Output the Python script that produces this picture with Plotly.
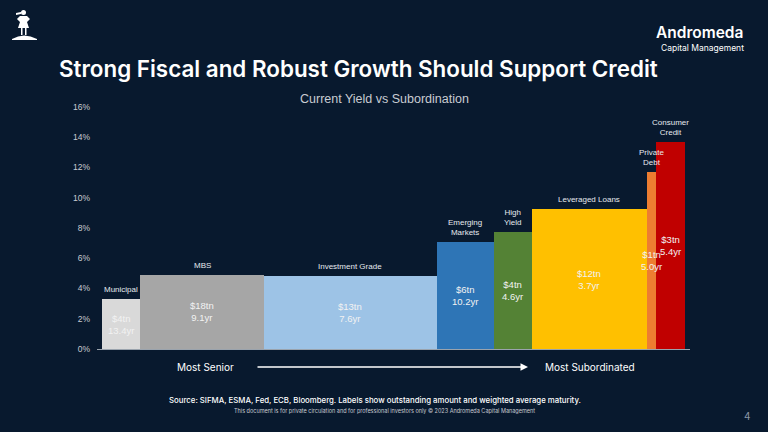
import plotly.graph_objects as go

# ---- data ----
categories = ["Municipal", "MBS", "Investment Grade", "Emerging Markets", "High Yield",
              "Leveraged Loans", "Private Debt", "Consumer Credit"]
cat_labels = ["Municipal", "MBS", "Investment Grade", "Emerging<br>Markets", "High<br>Yield",
              "Leveraged Loans", "Private<br>Debt", "Consumer<br>Credit"]
widths = [4, 13, 18, 6, 4, 12, 1, 3]           # bar widths (outstanding, tn)
yields = [3.3, 4.9, 4.8, 7.05, 7.75, 9.25, 11.7, 13.7]  # current yield, %
amounts = ["$4tn", "$18tn", "$13tn", "$6tn", "$4tn", "$12tn", "$1tn", "$3tn"]
maturity = ["13.4yr", "9.1yr", "7.6yr", "10.2yr", "4.6yr", "3.7yr", "5.0yr", "5.4yr"]
colors = ["#d9d9d9", "#a6a6a6", "#9dc3e6", "#2e75b6", "#548235", "#ffc000", "#ed7d31", "#c00000"]
y_ticks = [0, 2, 4, 6, 8, 10, 12, 14, 16]
y_tick_labels = [f"{t}%" for t in y_ticks]

BG = "#08192e"
W, H = 768, 432
L, R, T, B = 97, 690, 107, 349

def px(x):
    return (x - L) / (R - L)

def py(y):
    return (B - y) / (B - T)

centers = []
acc = 0
for w in widths:
    centers.append(acc + w / 2)
    acc += w
total = acc

fig = go.Figure()
fig.add_trace(go.Bar(
    x=centers, y=yields, width=widths,
    marker=dict(color=colors, line=dict(width=0)),
    hoverinfo="skip", showlegend=False,
))

pad = 5 / ((R - L - 10) / total)
fig.update_layout(
    width=W, height=H,
    paper_bgcolor=BG, plot_bgcolor=BG,
    margin=dict(l=L, r=W - R, t=T, b=H - B),
    bargap=0,
    xaxis=dict(range=[-pad, total + pad], showticklabels=False, showgrid=False,
               zeroline=False, showline=True, linecolor="#9aa3ad", linewidth=1, ticks=""),
    yaxis=dict(range=[0, 16], tickvals=y_ticks, ticktext=y_tick_labels, showgrid=False,
               zeroline=False, showline=False, ticks="", ticklabelstandoff=6,
               tickfont=dict(family="Arial, Liberation Sans", size=8.5, color="#c8ccd2")),
)

ann = []
# category labels above bars and value labels inside bars
for c, v, lab, a, m in zip(centers, yields, cat_labels, amounts, maturity):
    ann.append(dict(x=c, y=v, xref="x", yref="y", text=lab, showarrow=False,
                    yanchor="bottom", yshift=3,
                    font=dict(family="Arial, Liberation Sans", size=8, color="#e6e9ee")))
    ann.append(dict(x=c, y=v / 2, xref="x", yref="y", text=f"{a}<br>{m}", showarrow=False,
                    yanchor="middle", xanchor="center",
                    font=dict(family="Arial, Liberation Sans", size=9.5, color="#f2f2f2")))

# title and subtitle
ann.append(dict(x=px(358), y=py(68), xref="paper", yref="paper",
                text="Strong Fiscal and Robust Growth Should Support Credit",
                showarrow=False, xanchor="center", yanchor="middle",
                font=dict(family="Inter", size=22.4, color="white", weight=600)))
ann.append(dict(x=px(384), y=py(99), xref="paper", yref="paper",
                text="Current Yield vs Subordination", showarrow=False,
                xanchor="center", yanchor="middle",
                font=dict(family="Arial, Liberation Sans", size=12.5, color="#c8ccd2")))
# brand
ann.append(dict(x=px(745), y=py(32), xref="paper", yref="paper",
                text="Andromeda", showarrow=False, xanchor="right", yanchor="middle",
                font=dict(family="Inter", size=15.5, color="white", weight=600)))
ann.append(dict(x=px(746), y=py(47.5), xref="paper", yref="paper",
                text="Capital Management", showarrow=False, xanchor="right", yanchor="middle",
                font=dict(family="Inter", size=8.5, color="white")))
# seniority arrow
ann.append(dict(x=px(205), y=py(367), xref="paper", yref="paper", text="Most Senior",
                showarrow=False, xanchor="center", yanchor="middle",
                font=dict(family="Inter", size=10, color="white")))
ann.append(dict(x=px(590), y=py(367), xref="paper", yref="paper", text="Most Subordinated",
                showarrow=False, xanchor="center", yanchor="middle",
                font=dict(family="Inter", size=10, color="white")))
ann.append(dict(x=px(528), y=py(367), xref="paper", yref="paper", text="",
                showarrow=True, ax=-272, ay=0, arrowhead=2, arrowsize=1,
                arrowwidth=1.5, arrowcolor="white"))
# footer
ann.append(dict(x=px(375), y=py(400), xref="paper", yref="paper",
                text="Source: SIFMA, ESMA, Fed, ECB, Bloomberg. Labels show outstanding amount and weighted average maturity.",
                showarrow=False, xanchor="center", yanchor="middle",
                font=dict(family="Inter", size=7.8, color="white", weight=500)))
ann.append(dict(x=px(384), y=py(411), xref="paper", yref="paper",
                text="This document is for private circulation and for professional investors only © 2023 Andromeda Capital Management",
                showarrow=False, xanchor="center", yanchor="middle",
                font=dict(family="Inter", size=5.5, color="#c8ccd2")))
ann.append(dict(x=px(747), y=py(416), xref="paper", yref="paper", text="4",
                showarrow=False, xanchor="center", yanchor="middle",
                font=dict(family="Inter", size=10, color="#8a94a3")))
fig.update_layout(annotations=ann)

# simple logo figure (decorative)
def P(x, y):
    return f"{px(x):.5f},{py(y):.5f}"

shapes = [
    dict(type="circle", xref="paper", yref="paper", x0=px(21), x1=px(26), y0=py(15), y1=py(10),
         fillcolor="white", line=dict(width=0)),
    dict(type="path", xref="paper", yref="paper",
         path=f"M {P(21,12)} L {P(16,13)} L {P(16,15)} L {P(21,14)} Z",
         fillcolor="white", line=dict(width=0)),
    dict(type="path", xref="paper", yref="paper",
         path=f"M {P(20,16)} L {P(27,16)} L {P(30,19)} L {P(27,22)} L {P(29,28)} L {P(18,28)} L {P(20,22)} L {P(17,19)} Z",
         fillcolor="white", line=dict(width=0)),
    dict(type="path", xref="paper", yref="paper",
         path=f"M {P(21,28)} L {P(22.5,28)} L {P(22.5,35)} L {P(21,35)} Z M {P(25,28)} L {P(26.5,28)} L {P(26.5,35)} L {P(25,35)} Z",
         fillcolor="white", line=dict(width=0)),
    dict(type="path", xref="paper", yref="paper",
         path=f"M {P(12,39)} Q {P(24,32)} {P(37,39)} L {P(37,40)} L {P(12,40)} Z",
         fillcolor="white", line=dict(width=0)),
]
fig.update_layout(shapes=shapes)

fig.write_html("out.html", config={"displayModeBar": False},
               post_script="document.body.style.margin='0';document.body.style.overflow='hidden';")
